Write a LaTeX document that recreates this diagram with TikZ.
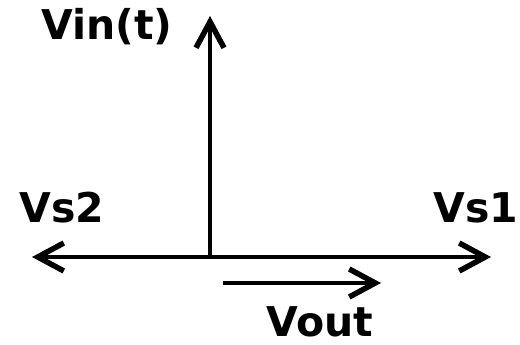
\documentclass[tikz,border=0pt]{standalone}
\usepackage{fontspec}
\setmainfont{DejaVu Sans}
\usetikzlibrary{arrows.meta}
\begin{document}
\begin{tikzpicture}[x=1pt,y=-1pt,
  axis/.style={line width=3.5pt, -{Straight Barb[length=26pt,width=28pt,line width=5.5pt]}},
  lbl/.style={font=\fontsize{41}{41}\selectfont\bfseries, inner sep=0pt}]
\useasboundingbox (0,0) rectangle (520,345);
\coordinate (O) at (210,257);
\coordinate (top) at (210,16);
\coordinate (left) at (32,257);
\coordinate (right) at (491,257);
\coordinate (vs) at (223,283);
\coordinate (ve) at (381,283);
\draw[axis] (O) -- (top);
\draw[axis] (O) -- (left);
\draw[axis] (O) -- (right);
\draw[axis] (vs) -- (ve);
\node[lbl] (vin) at (107,27) {Vin(t)};
\node[lbl] (vs2) at (62,208) {Vs2};
\node[lbl] (vs1) at (476,208) {Vs1};
\node[lbl] (vout) at (320,322) {Vout};
\end{tikzpicture}
\end{document}
